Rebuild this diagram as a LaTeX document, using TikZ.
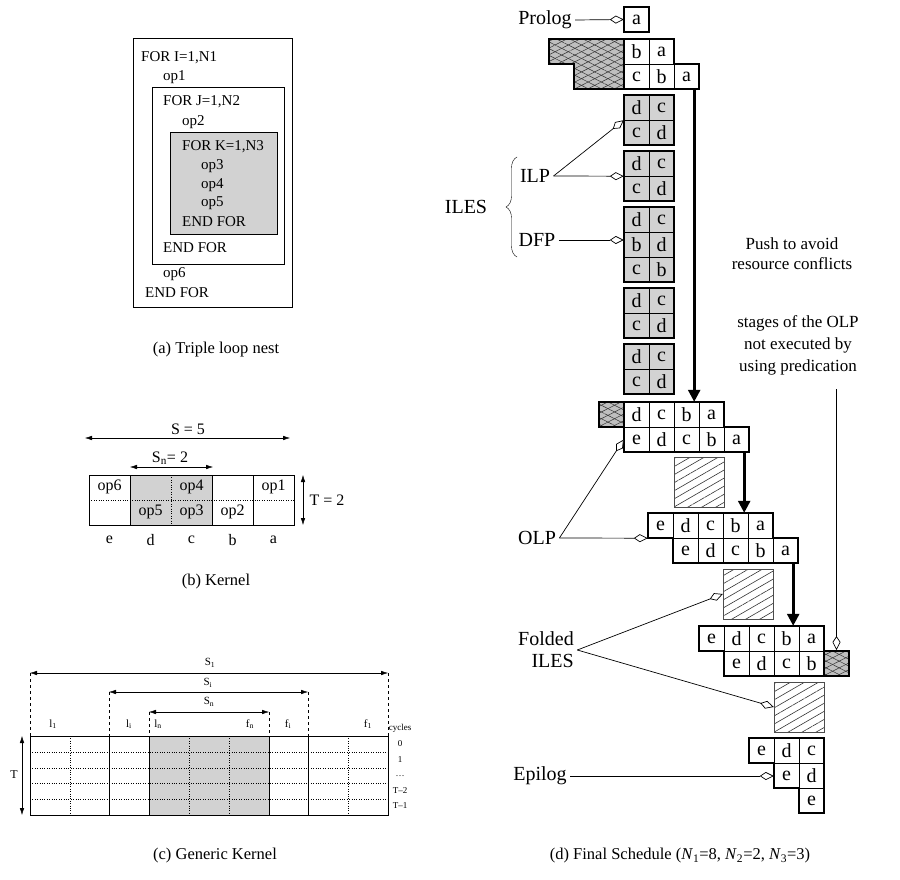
\documentclass[tikz,border=0pt]{standalone}
\usepackage{fontspec}
\setmainfont{Liberation Serif}
\usepackage{amsmath}
\usetikzlibrary{arrows.meta, decorations.pathreplacing, patterns.meta, positioning}

% one row of schedule cells, 25pt wide, starting at (x,y) = top left corner
\newcommand{\cellrow}[5][]{%
  \foreach \op [count=\i] in {#5}
    \node[cell,#1] (#2-\i) at ({#3+25*\i-12.5},{#4+12.5}) {\op};}

\begin{document}
\begin{tikzpicture}[x=1pt, y=-1pt,
  cell/.style={draw, thin, minimum size=25pt, inner sep=0, font=\fontsize{20}{22}\selectfont},
  gcell/.style={cell, fill=gray!35},
  blk/.style={line width=1.8pt, line join=miter},
  xhatch/.style={preaction={fill=gray!50},
    preaction={pattern={Lines[angle=27,distance=6pt,line width=.5pt]}, pattern color=gray!40!black},
    pattern={Lines[angle=-27,distance=6pt,line width=.5pt]}, pattern color=gray!40!black},
  dhatch/.style={draw=gray!60!black, minimum size=50pt, inner sep=0,
    pattern={Lines[angle=30,distance=7pt,line width=.6pt]}, pattern color=gray!40!black},
  push/.style={line width=2.6pt, -{Triangle[length=12pt,width=12pt]}},
  ptr/.style={line width=.7pt, -{Kite[open,fill=white,length=14pt,width=8pt,inset=6pt]}},
  txt/.style={font=\fontsize{20}{22}\selectfont},
  note/.style={align=center, font=\fontsize{17}{20}\selectfont},
  code/.style={anchor=west, inner sep=0, font=\fontsize{15}{17}\selectfont},
  kern/.style={font=\fontsize{16}{18}\selectfont},
  tiny/.style={font=\fontsize{11}{12}\selectfont},
  dim/.style={{Latex[length=7pt,width=4.5pt]}-{Latex[length=7pt,width=4.5pt]}},
  capt/.style={font=\fontsize{16.5}{20}\selectfont}]
\useasboundingbox (0,0) rectangle (900,880);

% (a) loop nest
\draw (133,38) rectangle (292,307);
\draw (152,87) rectangle (284,264);
\draw[fill=gray!35] (170,132) rectangle (277,234);
\node[code] (fori) at (141,58) {FOR I=1,N1};
\node[code] (op1) at (163,77) {op1};
\node[code] (forj) at (163,102) {FOR J=1,N2};
\node[code] (op2) at (182,122) {op2};
\node[code] (fork) at (182,147) {FOR K=1,N3};
\node[code] (op3) at (201,166) {op3};
\node[code] (op4) at (201,185) {op4};
\node[code] (op5) at (201,203) {op5};
\node[code] (endk) at (182,222) {END FOR};
\node[code] (endj) at (163,248) {END FOR};
\node[code] (op6) at (163,274) {op6};
\node[code] (endi) at (145,293) {END FOR};
\node[capt] (capa) at (216,350) {(a) Triple loop nest};

% (b) kernel
\fill[gray!35] (130,475) rectangle (212,525);
\draw (89,475) rectangle (294,525);
\foreach \x in {130,212,253} \draw (\x,475) -- (\x,525);
\draw[dotted] (171,475) -- (171,525);
\draw[dotted] (89,500) -- (294,500);
\draw[dim] (85,438) -- (290,438);
\node[kern] (s5) at (188,429) {S = 5};
\draw[dim] (130,467) -- (213,467);
\node[kern] (sn2) at (170,458) {S\textsubscript{n}= 2};
\draw[dim] (303,475) -- (303,525);
\node[kern] (t2) at (327,500) {T = 2};
\node[kern] at (109.5,487) {op6};
\node[kern] at (191.5,487) {op4};
\node[kern] at (273.5,487) {op1};
\node[kern] at (150.5,512) {op5};
\node[kern] at (191.5,512) {op3};
\node[kern] at (232.5,512) {op2};
\foreach \st [count=\i] in {e,d,c,b,a}
  \node[kern] (st-\i) at ({68.5+41*\i},540) {\st};
\node[capt] (capb) at (216,582) {(b) Kernel};

% (c) generic kernel
\fill[gray!35] (149,736) rectangle (269,815);
\foreach \y in {752,768,783,799} \draw[dotted] (30,\y) -- (388,\y);
\foreach \x in {70,189,229,348} \draw[dotted] (\x,736) -- (\x,815);
\foreach \x in {109,149,269,308} \draw (\x,736) -- (\x,815);
\draw (30,736) rectangle (388,815);
\foreach \x/\y in {30/673,388/673,109/692,308/692,149/712,269/712}
  \draw[dashed] (\x,\y) -- (\x,736);
\draw[dim] (30,673) -- (388,673);
\draw[dim] (109,692) -- (308,692);
\draw[dim] (149,712) -- (269,712);
\node[tiny] at (210,663) {S\textsubscript{1}};
\node[tiny] at (208,683) {S\textsubscript{i}};
\node[tiny] at (209,702) {S\textsubscript{n}};
\node[tiny] at (53,724) {l\textsubscript{1}};
\node[tiny] at (129,724) {l\textsubscript{i}};
\node[tiny] at (158,724) {l\textsubscript{n}};
\node[tiny] at (250,724) {f\textsubscript{n}};
\node[tiny] at (288,724) {f\textsubscript{i}};
\node[tiny] at (368,724) {f\textsubscript{1}};
\draw[dim] (22,736) -- (22,815);
\node[font=\fontsize{12}{14}\selectfont] at (14,775) {T};
\foreach \cy/\y in {cycles/728,0/744,1/760,\ldots/776,T\textendash2/791,T\textendash1/806}
  \node[font=\fontsize{9}{10}\selectfont] at (400,\y) {\cy};
\node[capt] (capc) at (215,856) {(c) Generic Kernel};

% (d) final schedule
\cellrow{pr}{624}{7}{a}
\draw[blk] (624,7) rectangle (649,32);
\path[xhatch, draw, blk] (549,39) -- (624,39) -- (624,89) -- (574,89) -- (574,64) -- (549,64) -- cycle;
\cellrow{r2}{624}{39}{b,a}
\cellrow{r3}{624}{64}{c,b,a}
\draw[blk] (624,39) -- (674,39) -- (674,64) -- (699,64) -- (699,89) -- (624,89) -- cycle;

% inner loop blocks
\foreach \y/\n in {95/1,151/2,288/4,344/5} {
  \cellrow[gcell]{g\n a}{624}{\y}{d,c}
  \cellrow[gcell]{g\n b}{624}{\y+25}{c,d}
  \draw[blk] (624,\y) rectangle (674,\y+50);
}
\cellrow[gcell]{g3a}{624}{207}{d,c}
\cellrow[gcell]{g3b}{624}{232}{b,d}
\cellrow[gcell]{g3c}{624}{257}{c,b}
\draw[blk] (624,207) rectangle (674,282);

% outer loop blocks
\path[xhatch, draw, blk] (599,402) rectangle (624,427);
\cellrow{o1a}{624}{402}{d,c,b,a}
\cellrow{o1b}{624}{427}{e,d,c,b,a}
\draw[blk] (624,402) -- (724,402) -- (724,427) -- (749,427) -- (749,452) -- (624,452) -- cycle;
\node[dhatch] (hs1) at (699,482) {};
\cellrow{o2a}{648}{513}{e,d,c,b,a}
\cellrow{o2b}{673}{538}{e,d,c,b,a}
\draw[blk] (648,513) -- (773,513) -- (773,538) -- (798,538) -- (798,563) -- (673,563) -- (673,538) -- (648,538) -- cycle;
\node[dhatch] (hs2) at (748,594) {};
\cellrow{f1a}{699}{626}{e,d,c,b,a}
\cellrow{f1b}{724}{651}{e,d,c,b}
\node[xhatch, draw, blk, minimum size=25pt, inner sep=0] (fx) at (836.5,663.5) {};
\draw[blk] (699,626) -- (824,626) -- (824,676) -- (724,676) -- (724,651) -- (699,651) -- cycle;
\node[dhatch] (hs3) at (799,707) {};

% epilog
\cellrow{e1}{749}{738}{e,d,c}
\cellrow{e2}{774}{763}{e,d}
\cellrow{e3}{799}{788}{e}
\draw[blk] (749,738) -- (824,738) -- (824,813) -- (799,813) -- (799,788) -- (774,788) -- (774,763) -- (749,763) -- cycle;

% pushes
\draw[push] ([xshift=-5pt]r3-3.south east) -- ([xshift=-5pt]r3-3.south east |- o1a-1.north);
\draw[push] ([xshift=-5pt]o1b-5.south east) -- ([xshift=-5pt]o1b-5.south east |- o2a-1.north);
\draw[push] ([xshift=-5pt]o2b-5.south east) -- ([xshift=-5pt]o2b-5.south east |- f1a-1.north);

% labels
\node[txt] (prolog) at (545,20) {Prolog};
\draw[ptr] (prolog.east) -- (pr-1.west);
\node[txt] (iles) at (466,207) {ILES};
\draw[decorate, decoration={brace, amplitude=11pt}] (517,257) -- (517,157);
\node[txt] (ilp) at (535,176) {ILP};
\node[txt] (dfp) at (537,240) {DFP};
\draw[ptr] (ilp.east) -- (g1a-1.south west);
\draw[ptr] (ilp.east) -- (g2a-1.south west);
\draw[ptr] (dfp.east) -- (dfp.east -| g3b-1.west);
\node[note] (push) at (792,254) {Push to avoid\\resource conflicts};
\node[note, font=\fontsize{17}{22}\selectfont] (pred) at (798,345) {stages of the OLP\\not executed by\\using predication};
\coordinate (predtop) at (836.5,389);
\draw[ptr] (predtop) -- (fx.north);
\node[txt] (olp) at (537,538) {OLP};
\draw[ptr] (olp.east) -- (o1b-1.west);
\draw[ptr] (olp.east) -- (o2a-1.south west);
\node[txt, align=right] (fold) at (546,650) {Folded\\ILES};
\draw[ptr] (fold.east) -- (hs2.west);
\draw[ptr] (fold.east) -- (hs3.west);
\node[txt] (epilog) at (540,776) {Epilog};
\draw[ptr] (epilog.east) -- (epilog.east -| e2-1.west);
\node[capt] (capd) at (680,856) {(d) Final Schedule (\textit{N}\textsubscript{1}=8, \textit{N}\textsubscript{2}=2, \textit{N}\textsubscript{3}=3)};
\end{tikzpicture}
\end{document}
